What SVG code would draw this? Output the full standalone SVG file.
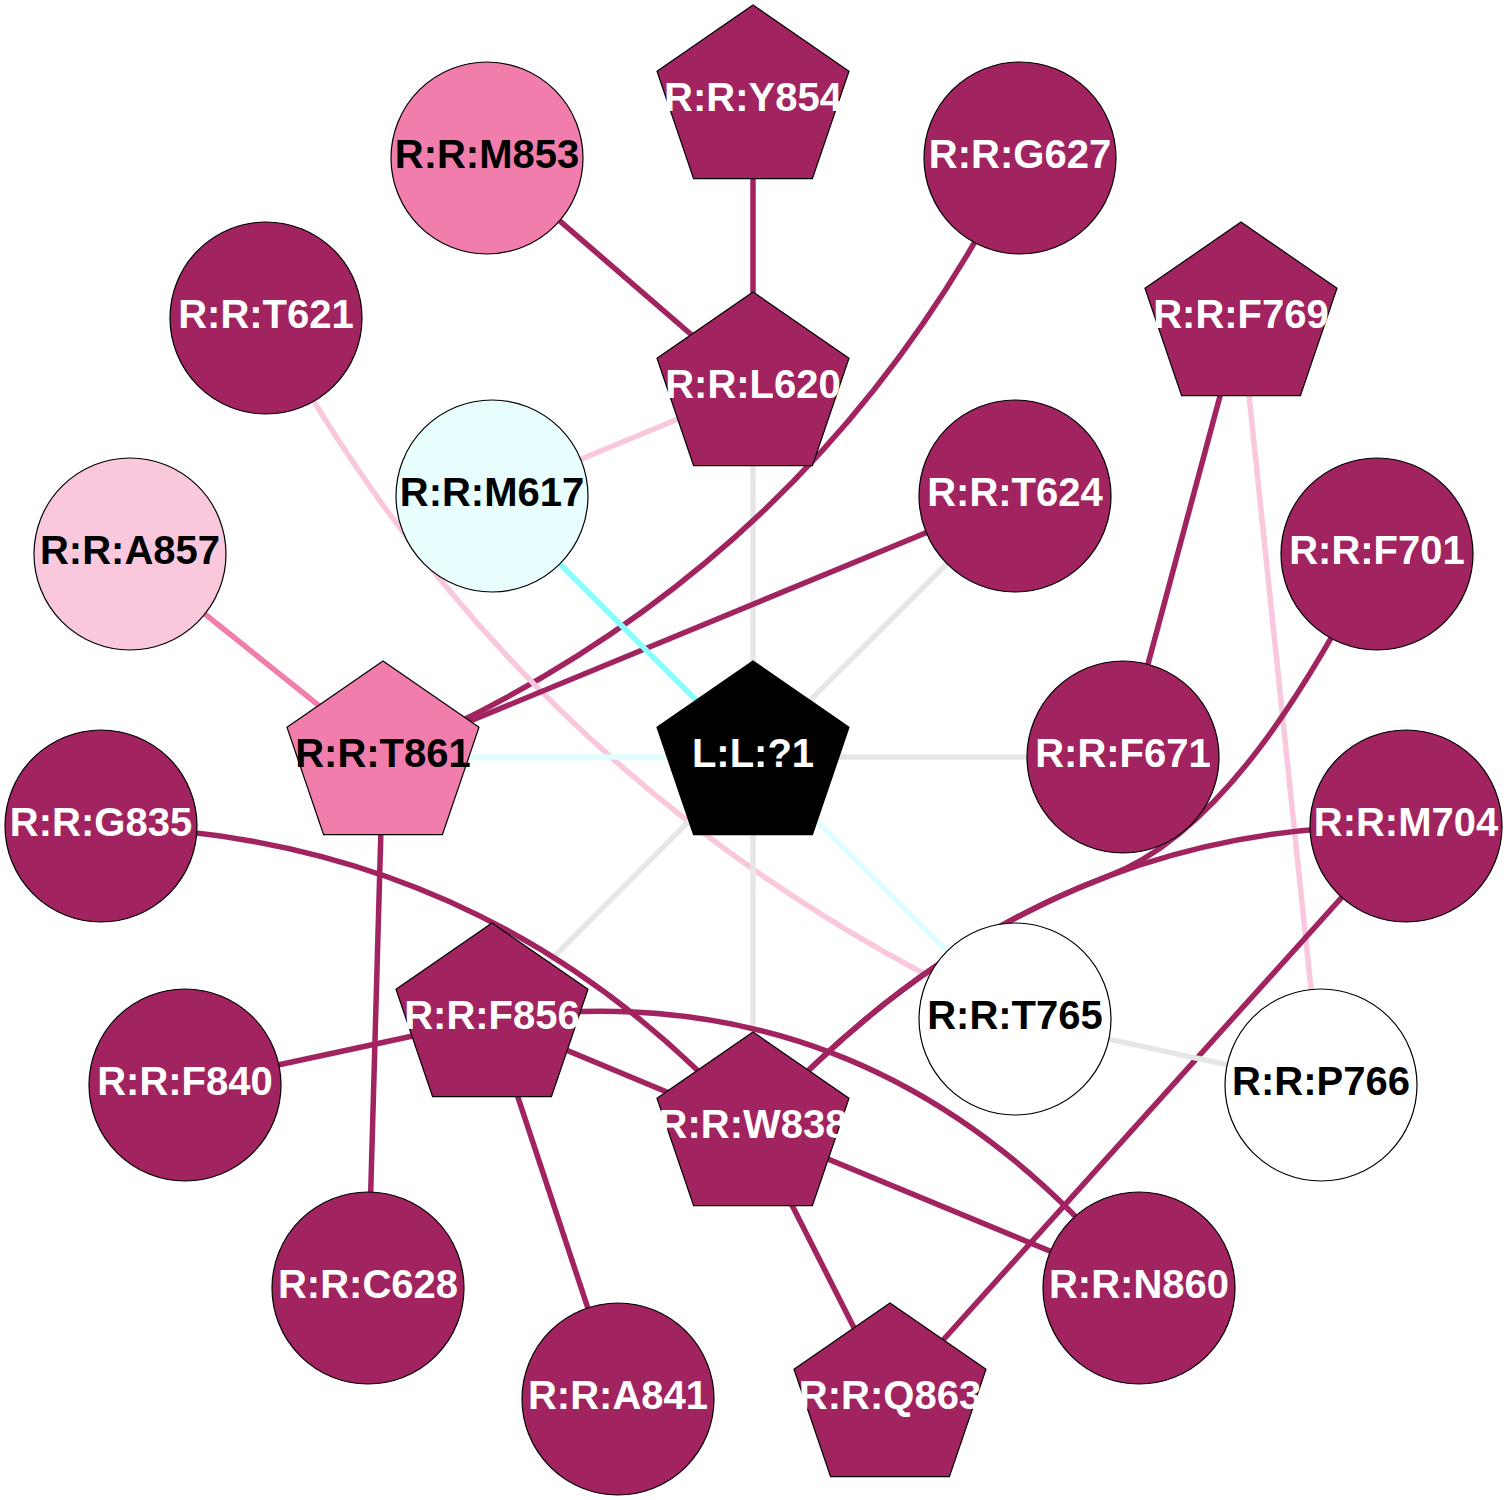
<svg xmlns="http://www.w3.org/2000/svg" xmlns:xlink="http://www.w3.org/1999/xlink" width="1507" height="1500" viewBox="0 0 1507 1500">
<style>
  .e{fill:none;stroke-width:5.5;stroke-linecap:butt}
  .ed{stroke:#a12460}
  .ep{stroke:#f07dab}
  .elp{stroke:#f9c8dd}
  .eg{stroke:#e6e6e6}
  .ec{stroke:#88ffff}
  .elc{stroke:#e0fefe}
  .n{stroke:#000;stroke-width:1.2}
  .dark{fill:#a12460}
  .pink{fill:#f07dab}
  .lpink{fill:#f9c8dd}
  .lcyan{fill:#e8fefe}
  .white{fill:#ffffff}
  .black{fill:#000000}
  text{font-family:"Liberation Sans",Arial,Helvetica,sans-serif;font-weight:bold;font-size:40px;text-anchor:middle}
  .tw{fill:#ffffff}
  .tb{fill:#000000}
</style>
<defs>
  <polygon id="pent" points="0,-96 96,-29.7 59.4,77.7 -59.4,77.7 -96,-29.7"/>
</defs>
<rect x="0" y="0" width="1507" height="1500" fill="#ffffff"/>
<g id="edges">
  <line class="e ed" x1="753" y1="101" x2="753" y2="388"/>
  <line class="e ed" x1="487" y1="158" x2="753" y2="388"/>
  <line class="e elp" x1="753" y1="388" x2="492" y2="496"/>
  <line class="e eg" x1="753" y1="388" x2="753" y2="757"/>
  <path class="e ed" d="M1020,158 Q814,575 383,757"/>
  <path class="e elp" d="M266,318 Q520,790 1015,1019"/>
  <line class="e ed" x1="1015" y1="496" x2="383" y2="757"/>
  <line class="e eg" x1="1015" y1="496" x2="753" y2="757"/>
  <line class="e ec" x1="492" y1="496" x2="753" y2="757"/>
  <line class="e ep" x1="130" y1="554" x2="383" y2="757"/>
  <line class="e elc" x1="383" y1="757" x2="753" y2="757"/>
  <line class="e eg" x1="753" y1="757" x2="1123" y2="757"/>
  <line class="e eg" x1="753" y1="757" x2="492" y2="1019"/>
  <line class="e eg" x1="753" y1="757" x2="753" y2="1128"/>
  <line class="e elc" x1="753" y1="757" x2="1015" y2="1019"/>
  <line class="e ed" x1="1241" y1="318" x2="1123" y2="757"/>
  <line class="e elp" x1="1241" y1="318" x2="1321" y2="1085"/>
  <path class="e ed" d="M1377,554 C1308,687 1220,834 1107.6,876.4 Q913.7,949.4 753,1128"/>
  <path class="e ed" d="M1406,826 Q1030,820 753,1128"/>
  <line class="e ed" x1="1406" y1="826" x2="890" y2="1399"/>
  <path class="e ed" d="M101,826 Q493,836 753,1128"/>
  <path class="e ed" d="M492,1019 Q880,965 1139,1288"/>
  <line class="e ed" x1="185" y1="1085" x2="492" y2="1019"/>
  <line class="e ed" x1="492" y1="1019" x2="753" y2="1128"/>
  <line class="e ed" x1="492" y1="1019" x2="618" y2="1399"/>
  <line class="e ed" x1="383" y1="757" x2="368" y2="1288"/>
  <line class="e ed" x1="753" y1="1128" x2="1139" y2="1288"/>
  <line class="e ed" x1="753" y1="1128" x2="890" y2="1399"/>
  <line class="e eg" x1="1015" y1="1019" x2="1321" y2="1085"/>
</g>
<g id="n-Y854"><use xlink:href="#pent" class="n dark" x="753" y="101"/><text class="tw" x="753" y="111.3">R:R:Y854</text></g>
<g id="n-M853"><circle class="n pink" cx="487" cy="158" r="96"/><text class="tb" x="487" y="168.3">R:R:M853</text></g>
<g id="n-G627"><circle class="n dark" cx="1020" cy="158" r="96"/><text class="tw" x="1020" y="168.3">R:R:G627</text></g>
<g id="n-T621"><circle class="n dark" cx="266" cy="318" r="96"/><text class="tw" x="266" y="328.3">R:R:T621</text></g>
<g id="n-L620"><use xlink:href="#pent" class="n dark" x="753" y="388"/><text class="tw" x="753" y="398.3">R:R:L620</text></g>
<g id="n-F769"><use xlink:href="#pent" class="n dark" x="1241" y="318"/><text class="tw" x="1241" y="328.3">R:R:F769</text></g>
<g id="n-M617"><circle class="n lcyan" cx="492" cy="496" r="96"/><text class="tb" x="492" y="506.3">R:R:M617</text></g>
<g id="n-T624"><circle class="n dark" cx="1015" cy="496" r="96"/><text class="tw" x="1015" y="506.3">R:R:T624</text></g>
<g id="n-A857"><circle class="n lpink" cx="130" cy="554" r="96"/><text class="tb" x="130" y="564.3">R:R:A857</text></g>
<g id="n-F701"><circle class="n dark" cx="1377" cy="554" r="96"/><text class="tw" x="1377" y="564.3">R:R:F701</text></g>
<g id="n-T861"><use xlink:href="#pent" class="n pink" x="383" y="757"/><text class="tb" x="383" y="767.3">R:R:T861</text></g>
<g id="n-L1"><use xlink:href="#pent" class="n black" x="753" y="757"/><text class="tw" x="753" y="767.3">L:L:?1</text></g>
<g id="n-F671"><circle class="n dark" cx="1123" cy="757" r="96"/><text class="tw" x="1123" y="767.3">R:R:F671</text></g>
<g id="n-G835"><circle class="n dark" cx="101" cy="826" r="96"/><text class="tw" x="101" y="836.3">R:R:G835</text></g>
<g id="n-M704"><circle class="n dark" cx="1406" cy="826" r="96"/><text class="tw" x="1406" y="836.3">R:R:M704</text></g>
<g id="n-F856"><use xlink:href="#pent" class="n dark" x="492" y="1019"/><text class="tw" x="492" y="1029.3">R:R:F856</text></g>
<g id="n-T765"><circle class="n white" cx="1015" cy="1019" r="96"/><text class="tb" x="1015" y="1029.3">R:R:T765</text></g>
<g id="n-F840"><circle class="n dark" cx="185" cy="1085" r="96"/><text class="tw" x="185" y="1095.3">R:R:F840</text></g>
<g id="n-P766"><circle class="n white" cx="1321" cy="1085" r="96"/><text class="tb" x="1321" y="1095.3">R:R:P766</text></g>
<g id="n-W838"><use xlink:href="#pent" class="n dark" x="753" y="1128"/><text class="tw" x="753" y="1138.3">R:R:W838</text></g>
<g id="n-C628"><circle class="n dark" cx="368" cy="1288" r="96"/><text class="tw" x="368" y="1298.3">R:R:C628</text></g>
<g id="n-N860"><circle class="n dark" cx="1139" cy="1288" r="96"/><text class="tw" x="1139" y="1298.3">R:R:N860</text></g>
<g id="n-A841"><circle class="n dark" cx="618" cy="1399" r="96"/><text class="tw" x="618" y="1409.3">R:R:A841</text></g>
<g id="n-Q863"><use xlink:href="#pent" class="n dark" x="890" y="1399"/><text class="tw" x="890" y="1409.3">R:R:Q863</text></g>
</svg>
